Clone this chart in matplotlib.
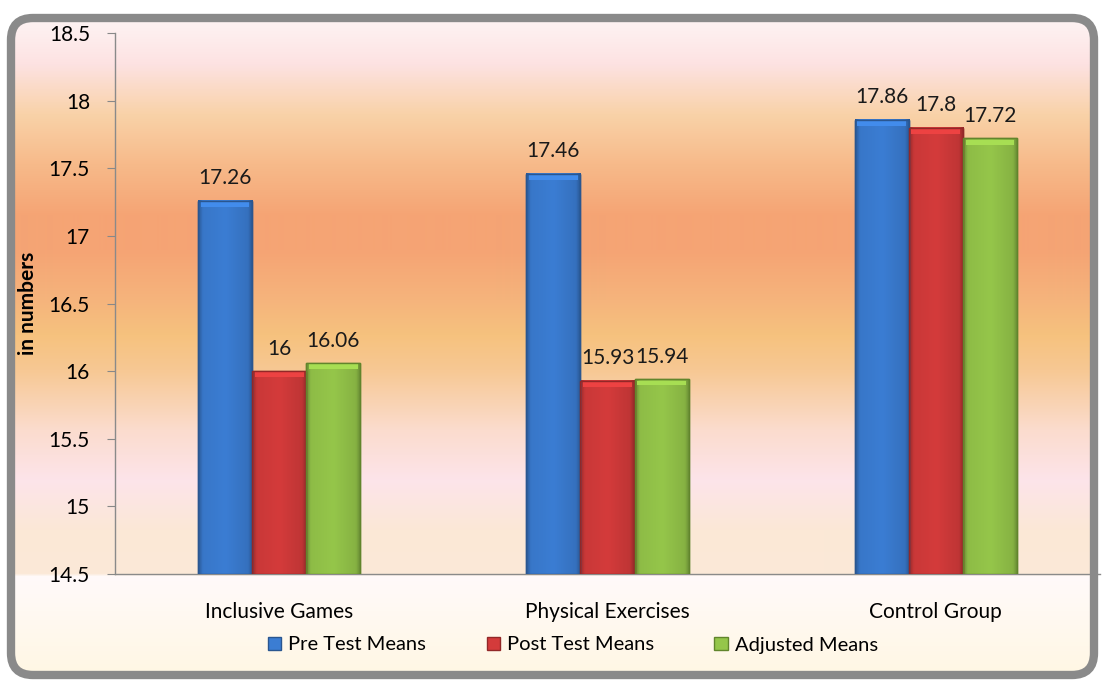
import numpy as np
import matplotlib
matplotlib.use('Agg')
import matplotlib.pyplot as plt
from matplotlib.patches import FancyBboxPatch
from matplotlib.colors import to_rgb

# Data
groups = ['Inclusive Games', 'Physical Exercises', 'Control Group']
series = ['Pre Test Means', 'Post Test Means', 'Adjusted Means']
pre_test = [17.26, 17.46, 17.86]
post_test = [16.0, 15.93, 17.8]
adjusted = [16.06, 15.94, 17.72]
labels_pre = ['17.26', '17.46', '17.86']
labels_post = ['16', '15.93', '17.8']
labels_adj = ['16.06', '15.94', '17.72']
yticks = [14.5, 15, 15.5, 16, 16.5, 17, 17.5, 18, 18.5]

plt.rcParams['font.family'] = ['Lato', 'DejaVu Sans']

W, H = 1105, 681
fig = plt.figure(figsize=(W / 100, H / 100), dpi=100)
fig.patch.set_facecolor('white')

# background panel with vertical gradient
bg = fig.add_axes([0, 0, 1, 1], zorder=0)
bg.set_xlim(0, W)
bg.set_ylim(H, 0)
bg.axis('off')
stops_y = [14, 34, 64, 114, 164, 215, 250, 300, 335, 370, 430, 480, 530, 573, 576, 681]
stops_c = ['#fdf4f4', '#fdeeee', '#fde2e2', '#f9d2a8', '#f7ba8a', '#f5a474', '#f5a474',
           '#f5b47c', '#f6c27e', '#f7c894', '#fbdcce', '#fde4ea', '#fbe8d6', '#fbe9d8',
           '#fffafa', '#fff7e2']
rows = np.arange(H)
rgb = np.array([to_rgb(c) for c in stops_c])
grad = np.stack([np.interp(rows, stops_y, rgb[:, i]) for i in range(3)], axis=-1)
grad = np.repeat(grad[:, None, :], 2, axis=1)
im = bg.imshow(grad, extent=(0, W, H, 0), aspect='auto', interpolation='bilinear')
panel = FancyBboxPatch((11, 18), W - 22, H - 24, boxstyle='round,pad=0,rounding_size=22',
                       facecolor='none', edgecolor='#8a8a8a', linewidth=6)
bg.add_patch(panel)
im.set_clip_path(panel)

# main chart
ax = fig.add_axes([115 / W, (H - 574) / H, (1100 - 115) / W, (574 - 33) / H], zorder=1)
ax.set_facecolor('none')

x = np.arange(len(groups))
w = 0.165
colors = ['#3b7dd3', '#d43b3b', '#95c64a']
edges = ['#2a5690', '#922828', '#61852c']
values = [pre_test, post_test, adjusted]
texts = [labels_pre, labels_post, labels_adj]

# horizontal shading profile across a bar (darker sides, lighter top bevel)
prof = np.interp(np.linspace(0, 1, 40), [0, 0.08, 0.5, 0.92, 1], [0.72, 0.95, 1.0, 0.9, 0.7])

for i, (vals, labs) in enumerate(zip(values, texts)):
    xs = x + (i - 1) * w
    bars = ax.bar(xs, np.array(vals) - 14.5, w, bottom=14.5, color=colors[i],
                  edgecolor=edges[i], linewidth=1.0, label=series[i], zorder=3)
    base = np.array(to_rgb(colors[i]))
    for b, v in zip(bars, vals):
        img = np.clip(prof[None, :, None] * base[None, None, :], 0, 1)
        img = np.repeat(img, 2, axis=0)
        x0 = b.get_x()
        ax.imshow(img, extent=(x0, x0 + w, 14.5, v), aspect='auto', zorder=3.1,
                  interpolation='bilinear')
        # top bevel highlight
        ax.bar(x0 + w / 2, 0.035, w * 0.9, bottom=v - 0.045,
               color=np.clip(base * 1.12, 0, 1), linewidth=0, zorder=3.2)
        ax.bar(x0 + w / 2, v - 14.5, w, bottom=14.5, facecolor='none',
               edgecolor=edges[i], linewidth=1.0, zorder=3.3)
    for xi, v, t in zip(xs, vals, labs):
        ax.annotate(t, (xi, v), xytext=(0, 9), textcoords='offset points',
                    ha='center', va='bottom', fontsize=15, color='#1a1a1a')

ax.set_xlim(-0.5, 2.5)
ax.set_ylim(14.5, 18.5)
ax.set_yticks(yticks)
ax.set_yticklabels(['14.5', '15', '15.5', '16', '16.5', '17', '17.5', '18', '18.5'])
ax.set_xticks(x)
ax.set_xticklabels(groups)
ax.tick_params(axis='y', direction='out', length=6, color='#888888', labelsize=15, pad=12)
ax.tick_params(axis='x', length=0, labelsize=15, pad=20)
for s in ['top', 'right']:
    ax.spines[s].set_visible(False)
for s in ['left', 'bottom']:
    ax.spines[s].set_color('#8a8a8a')
    ax.spines[s].set_linewidth(1)
ax.set_ylabel('in numbers', fontsize=15, fontweight='bold', labelpad=8)

handles, leg_labels = ax.get_legend_handles_labels()
fig.legend(handles[:3], leg_labels[:3], loc='center', bbox_to_anchor=(573 / W, (H - 645) / H),
           ncol=3, frameon=False, fontsize=14.5, handlelength=0.65, handleheight=0.65,
           handletextpad=0.35, columnspacing=3.0)

plt.savefig('out.png', dpi=100)
